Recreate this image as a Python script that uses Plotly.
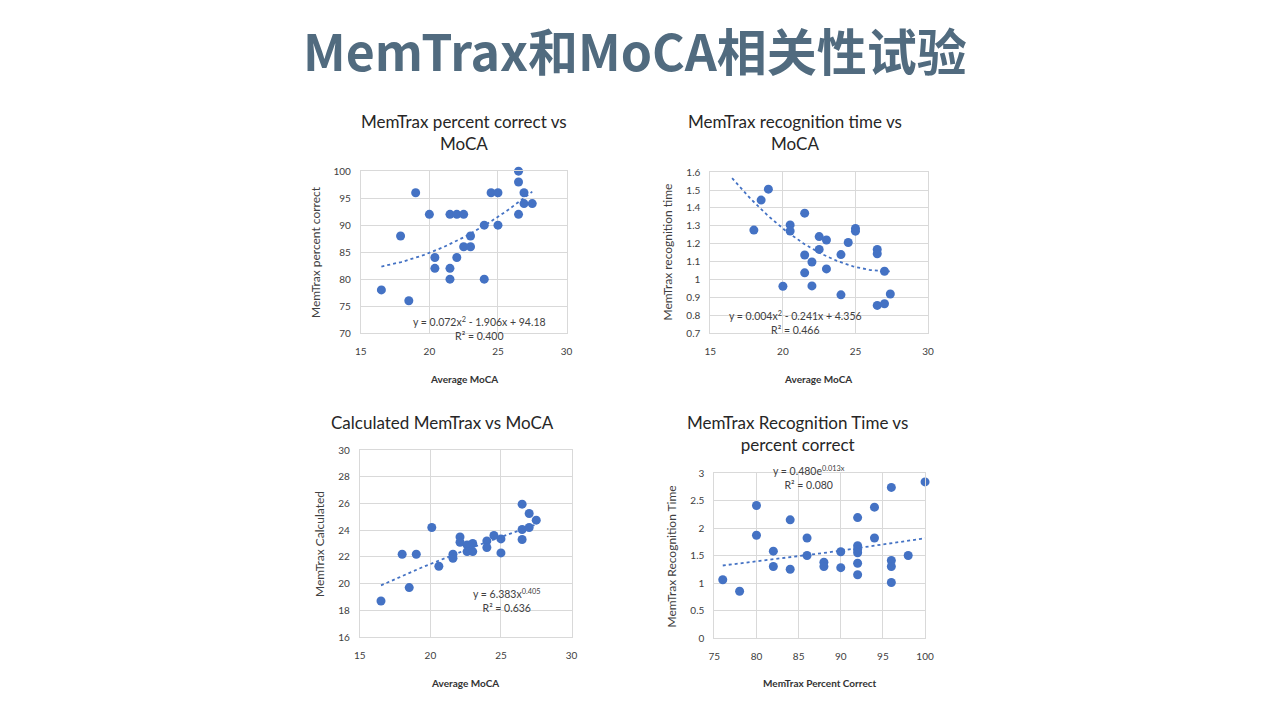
import numpy as np
import plotly.graph_objects as go

# ---------------- data ----------------
x1 = [16.5, 17.9, 18.5, 19.0, 20.0, 20.4, 20.4, 21.5, 21.5, 21.5, 22.0, 22.0, 22.5, 22.5,
      23.0, 23.0, 24.0, 24.0, 24.5, 25.0, 25.0, 26.5, 26.5, 26.5, 26.9, 26.9, 27.5]
y1 = [78, 88, 76, 96, 92, 84, 82, 92, 82, 80, 92, 84, 92, 86,
      88, 86, 90, 80, 96, 96, 90, 100, 98, 92, 96, 94, 94]

x2 = [18.0, 18.5, 19.0, 20.0, 20.5, 20.5, 21.5, 21.5, 21.5, 22.0, 22.0, 22.5, 22.5,
      23.0, 23.0, 24.0, 24.0, 24.5, 25.0, 25.0, 26.5, 26.5, 26.5, 27.0, 27.0, 27.4]
y2 = [1.276, 1.444, 1.505, 0.962, 1.305, 1.271, 1.371, 1.137, 1.037, 1.098, 0.964, 1.24, 1.168,
      1.221, 1.059, 1.139, 0.914, 1.207, 1.285, 1.27, 1.168, 1.144, 0.855, 1.046, 0.864, 0.919]

x3 = [16.5, 18.0, 18.5, 19.0, 20.1, 20.6, 21.6, 21.6, 22.1, 22.1, 22.6, 22.6, 23.0,
      23.0, 24.0, 24.0, 24.5, 25.0, 25.0, 26.5, 26.5, 26.5, 27.0, 27.0, 27.5]
y3 = [18.7, 22.2, 19.7, 22.2, 24.2, 21.3, 22.2, 21.9, 23.5, 23.1, 22.9, 22.4, 23.0,
      22.4, 23.2, 22.7, 23.6, 23.35, 22.3, 25.95, 24.05, 23.3, 25.25, 24.2, 24.75]

x4 = [76, 78, 80, 80, 82, 82, 84, 84, 86, 86, 88, 88, 90, 90,
      92, 92, 92, 92, 92, 92, 94, 94, 96, 96, 96, 96, 98, 100]
y4 = [1.06, 0.85, 2.41, 1.87, 1.58, 1.30, 2.15, 1.25, 1.82, 1.50, 1.38, 1.30, 1.57, 1.28,
      2.19, 1.68, 1.61, 1.55, 1.36, 1.15, 2.38, 1.82, 2.74, 1.41, 1.30, 1.01, 1.50, 2.84]

# trendline parameters
TREND1_POLY = [0.072, -1.906, 94.18]
TREND2_POLY = [0.0044, -0.241, 4.345]
TREND3_POW = (6.383, 0.405)
TREND4_EXP = (0.480, 0.0133)
TREND_RANGE_MOCA = (16.5, 27.5)
TREND_RANGE_PCT = (76, 100)

MAIN_TITLE = "MemTrax和MoCA相关性试验"
TITLES = ["MemTrax percent correct vs<br>MoCA", "MemTrax recognition time vs<br>MoCA",
          "Calculated MemTrax vs MoCA", "MemTrax Recognition Time vs<br>percent correct"]
XTITLES = ["Average MoCA", "Average MoCA", "Average MoCA", "MemTrax Percent Correct"]
YTITLES = ["MemTrax percent correct", "MemTrax recognition time",
           "MemTrax Calculated", "MemTrax Recognition Time"]
EQS = ["y = 0.072x<sup>2</sup> - 1.906x + 94.18<br>R² = 0.400",
       "y = 0.004x<sup>2</sup> - 0.241x + 4.356<br>R² = 0.466",
       "y = 6.383x<sup>0.405</sup><br>R² = 0.636",
       "y = 0.480e<sup>0.013x</sup><br>R² = 0.080"]

BLUE = "#4472C4"
GRID = "#D9D9D9"
TXT = "#404040"
FONT = "Lato, 'Open Sans', sans-serif"

# page placement compensation (empirical)
OFF = 8
W, H = 1256, 692
SX, CX = 0.9894, 3.8
SY, CY = 0.983, 5.9
def px(x):
    return ((x - CX) / SX - OFF) / W
def py(y):
    return 1 - ((y - CY) / SY - OFF) / H

# plot areas in target pixels: (left, top, right, bottom)
areas = [(359, 170, 565, 332), (709, 171, 927, 332), (358, 449, 570, 636), (713, 472, 924, 637)]
xranges = [[15, 30], [15, 30], [15, 30], [75, 100]]
yranges = [[70, 100], [0.7, 1.6], [16, 30], [0, 3]]
ydticks = [5, 0.1, 2, 0.5]

fig = go.Figure()

xs = [x1, x2, x3, x4]
ys = [y1, y2, y3, y4]

tx_m = np.linspace(*TREND_RANGE_MOCA, 100)
tx_p = np.linspace(*TREND_RANGE_PCT, 100)
trends = [
    (tx_m, np.polyval(TREND1_POLY, tx_m)),
    (tx_m, np.polyval(TREND2_POLY, tx_m)),
    (tx_m, TREND3_POW[0] * tx_m ** TREND3_POW[1]),
    (tx_p, TREND4_EXP[0] * np.exp(TREND4_EXP[1] * tx_p)),
]

for i in range(4):
    xa = "x" if i == 0 else f"x{i+1}"
    ya = "y" if i == 0 else f"y{i+1}"
    fig.add_trace(go.Scatter(x=xs[i], y=ys[i], mode="markers", xaxis=xa, yaxis=ya,
                             marker=dict(color=BLUE, size=9), showlegend=False, cliponaxis=False))
    fig.add_trace(go.Scatter(x=trends[i][0], y=trends[i][1], mode="lines", xaxis=xa, yaxis=ya,
                             line=dict(color=BLUE, width=1.8, dash="dot"), showlegend=False))
    l, t, r, b = areas[i]
    axcommon = dict(showgrid=True, gridcolor=GRID, gridwidth=1, zeroline=False,
                    showline=True, linecolor=GRID, linewidth=1, mirror=True,
                    ticks="", tickfont=dict(family=FONT, size=10, color=TXT))
    xkey = "xaxis" if i == 0 else f"xaxis{i+1}"
    ykey = "yaxis" if i == 0 else f"yaxis{i+1}"
    fig.update_layout(**{
        xkey: dict(domain=[px(l), px(r)], range=xranges[i], dtick=5, tick0=0,
                   anchor=ya, ticklabelstandoff=9, **axcommon),
        ykey: dict(domain=[py(b), py(t)], range=yranges[i], dtick=ydticks[i], tick0=0,
                   anchor=xa, ticklabelstandoff=7, **axcommon),
    })

ann = []
ann.append(dict(text=f"<b>{MAIN_TITLE}</b>", x=px(634), y=py(48), xref="paper", yref="paper",
                showarrow=False, xanchor="center", yanchor="middle",
                font=dict(family="'Noto Sans CJK SC', sans-serif", size=50, color="#516B7F")))
title_pos = [(462, 131), (794, 131), (441, 421), (796, 432)]
xt_pos = [(462, 378), (817, 378), (463, 682), (819, 682)]
yt_pos = [(313, 251), (666, 251), (317, 543), (670, 555)]
eq_pos = [(478, 327), (794, 321), (505, 599), (808, 476)]
for i in range(4):
    ann.append(dict(text=TITLES[i], x=px(title_pos[i][0]), y=py(title_pos[i][1]), xref="paper",
                    yref="paper", showarrow=False, xanchor="center", yanchor="middle",
                    font=dict(family=FONT, size=17, color="#262626")))
    ann.append(dict(text=f"<b>{XTITLES[i]}</b>", x=px(xt_pos[i][0]), y=py(xt_pos[i][1]), xref="paper",
                    yref="paper", showarrow=False, xanchor="center", yanchor="middle",
                    font=dict(family=FONT, size=10, color="#333333")))
    ann.append(dict(text=YTITLES[i], x=px(yt_pos[i][0]), y=py(yt_pos[i][1]), xref="paper",
                    yref="paper", showarrow=False, xanchor="center", yanchor="middle", textangle=-90,
                    font=dict(family=FONT, size=12, color=TXT)))
    ann.append(dict(text=EQS[i], x=px(eq_pos[i][0]), y=py(eq_pos[i][1]), xref="paper",
                    yref="paper", showarrow=False, xanchor="center", yanchor="middle", align="center",
                    font=dict(family=FONT, size=10.5, color=TXT)))

fig.update_layout(width=W, height=H, margin=dict(l=0, r=0, t=0, b=0),
                  paper_bgcolor="white", plot_bgcolor="white", annotations=ann,
                  font=dict(family=FONT))

fig.write_html("out.html", config={"displayModeBar": False})
